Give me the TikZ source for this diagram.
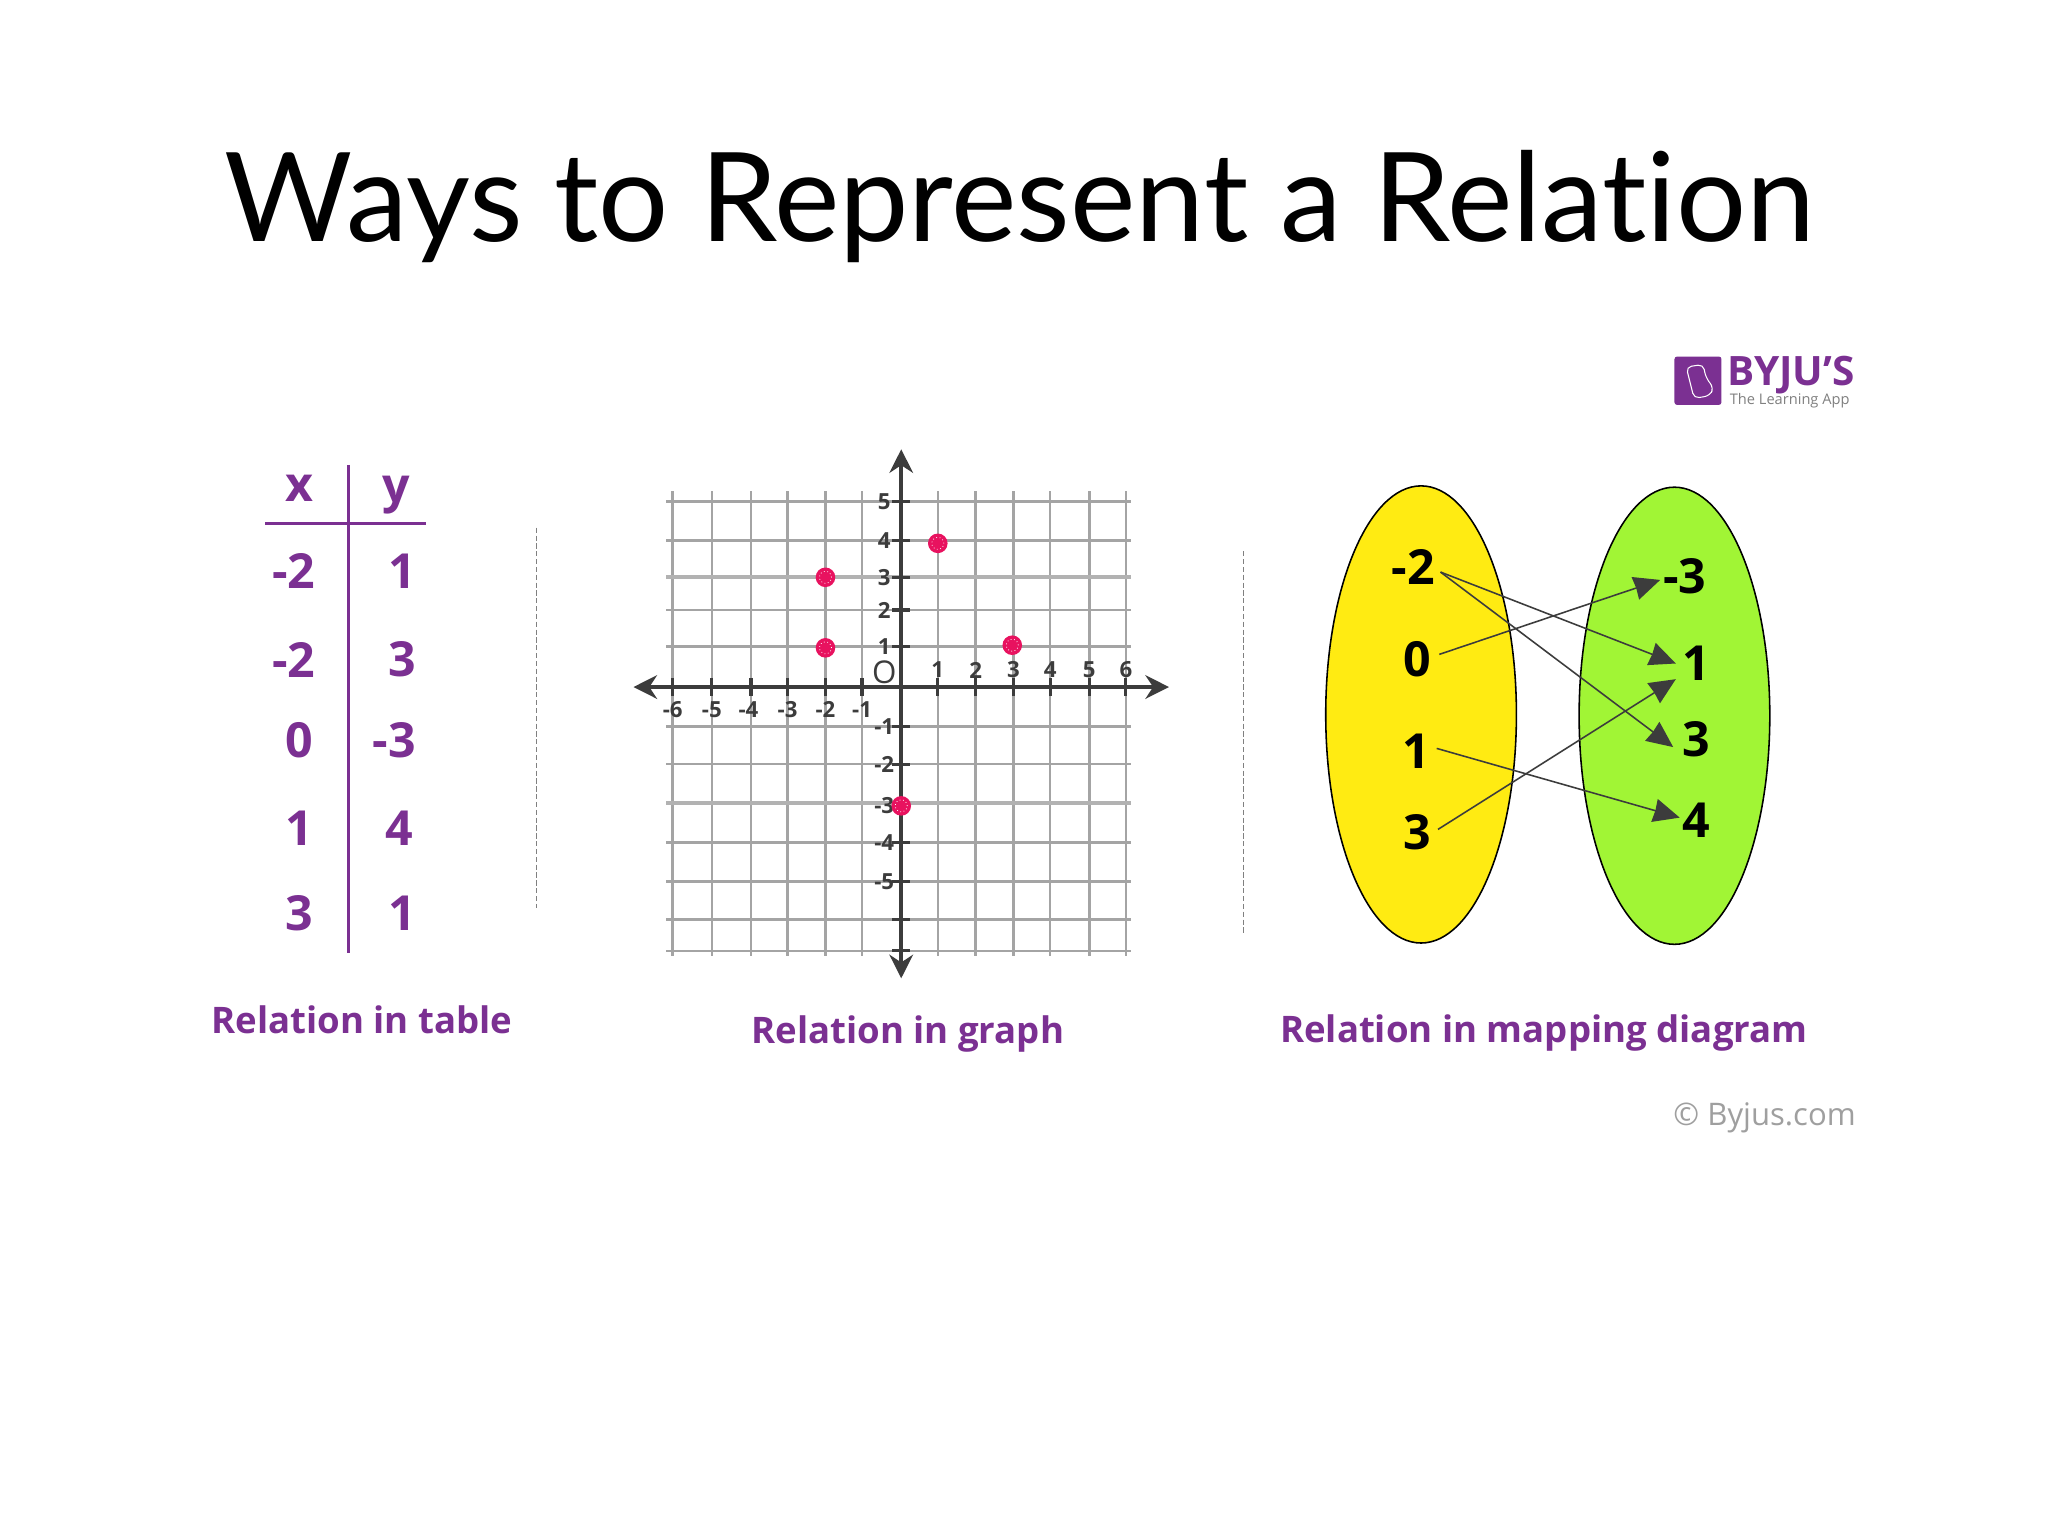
\documentclass[tikz,border=0pt]{standalone}
\usepackage{fontspec}
\setmainfont{Open Sans}
\newfontfamily\titlefont[Ligatures=NoCommon]{Lato}
\usetikzlibrary{arrows.meta}
\definecolor{relpurple}{HTML}{7B3092}
\definecolor{gridgray}{HTML}{A4A4A4}
\definecolor{axisgray}{HTML}{3C3C3C}
\definecolor{ptpink}{HTML}{E8125F}
\definecolor{ovyellow}{HTML}{FFEB12}
\definecolor{ovgreen}{HTML}{A1F535}
\tikzset{
  titletext/.style={inner sep=0pt,anchor=base,font=\titlefont\fontsize{47.4}{52}\selectfont,text=black},
  tabletext/.style={inner sep=0pt,text=relpurple,font=\fontsize{18.5}{20}\selectfont\bfseries},
  captext/.style={inner sep=0pt,text=relpurple,font=\fontsize{14}{16}\selectfont\bfseries},
  ticktext/.style={inner sep=0pt,text=axisgray,font=\fontsize{8.5}{9}\selectfont\bfseries},
  maptext/.style={inner sep=1pt,text=black,font=\fontsize{18.5}{20}\selectfont\bfseries},
  gridline/.style={gridgray,line width=1pt},
  axisline/.style={axisgray,line width=1.7pt,{Stealth[length=9pt,width=9pt]}-{Stealth[length=9pt,width=9pt]}},
  tickmark/.style={axisgray,line width=1.2pt},
  tblrule/.style={relpurple,line width=1.3pt},
  sepline/.style={gray,line width=.45pt,dash pattern=on 2pt off 1pt},
  ptmark/.style={circle,fill=ptpink,minimum size=7.5pt,inner sep=0pt,path picture={\draw[white,line width=.3pt,densely dotted] (path picture bounding box.center) circle (2.3pt);}},
  maparrow/.style={axisgray,line width=.6pt,-{Stealth[length=10pt,width=9pt,inset=0.3pt]}},
}
\begin{document}
\begin{tikzpicture}[x=0.5pt,y=-0.5pt]
\useasboundingbox (0,0) rectangle (1568,1176);
\fill[white] (0,0) rectangle (1568,1176);
\node[titletext] (ttl) at (781,185) {Ways to Represent a Relation};
% table
\coordinate (vt) at (267,356); \coordinate (vb) at (267,730);
\coordinate (hl) at (203,401); \coordinate (hr) at (326,401);
\draw[tblrule] (vt) -- (vb);
\draw[tblrule] (hl) -- (hr);
\foreach \n/\x/\y/\t in {xh/229/374/x,yh/303/379/y,a1/225/437/-2,b1/308/437/1,a2/225/505/-2,b2/308/505/3,a3/229/567/0,b3/302/567/-3,a4/229/634/1,b4/306/634/4,a5/229/699/3,b5/308/699/1}
  \node[tabletext] (\n) at (\x,\y) {\t};
\coordinate (s1t) at (411,404); \coordinate (s1b) at (411,695);
\draw[sepline] (s1t) -- (s1b);
\node[captext] (captable) at (277,781) {Relation in table};
% graph
\foreach \x in {515,545,575,603,632,660,718,747,776,804,834,862} \draw[gridline] (\x,376) -- (\x,732);
\foreach \y in {384,414,467,495,556,585,645,675,704,728} \draw[gridline] (510,\y) -- (866,\y);
\foreach \y in {442,615} \draw[gridline,gridgray!85,line width=1.5pt] (510,\y) -- (866,\y);
\foreach \x in {515,545,575,603,632,660,718,747,776,804,834,862} \draw[tickmark] (\x,519) -- (\x,533);
\foreach \y in {384,414,442,467,495,556,585,615,645,675,704,728} \draw[tickmark] (683,\y) -- (697,\y);
\coordinate (xa) at (485,526); \coordinate (xb) at (895,526);
\coordinate (ya) at (690,344); \coordinate (yb) at (690,749);
\draw[axisline] (xa) -- (xb);
\draw[axisline] (ya) -- (yb);
\foreach \x/\t in {515/-6,545/-5,573/-4,603/-3,632/-2,660/-1} \node[ticktext] at (\x,543) {\t};
\foreach \x/\t in {718/1,747/2,776/3,804/4,834/5,862/6} \node[ticktext] at (\x,513) {\t};
\foreach \y/\t in {384/5,414/4,442/3,467/2,495/1} \node[ticktext] at (677,\y) {\t};
\foreach \y/\t in {556/-1,585/-2,617/-3,645/-4,675/-5} \node[ticktext] at (677,\y) {\t};
\node[ticktext,font=\fontsize{12}{13}\selectfont] (orig) at (677,515) {O};
\foreach \n/\x/\y in {p1/632/442,p2/632/496,p3/718/416,p4/775/494,p5/690/617} \node[ptmark] (\n) at (\x,\y) {};
\node[captext] (capgraph) at (695,792) {Relation in graph};
% mapping
\coordinate (s2t) at (952,422); \coordinate (s2b) at (952,715);
\draw[sepline] (s2t) -- (s2b);
\draw[black,line width=.6pt,fill=ovyellow] (1088,547) ellipse [x radius=73,y radius=175];
\draw[black,line width=.6pt,fill=ovgreen] (1282,548) ellipse [x radius=73,y radius=175];
\node[maptext] (l1) at (1082,434) {-2};
\node[maptext] (l2) at (1085,505) {0};
\node[maptext] (l3) at (1084,575) {1};
\node[maptext] (l4) at (1085,637) {3};
\node[maptext] (r1) at (1290,441) {-3};
\node[maptext] (r2) at (1299,508) {1};
\node[maptext] (r3) at (1299,566) {3};
\node[maptext] (r4) at (1299,628) {4};
\draw[maparrow] ([xshift=1pt,yshift=-2pt]l1.east) -- ([xshift=-1.5pt]r2.west);
\draw[maparrow] ([xshift=1pt,yshift=-2pt]l1.east) -- ([xshift=-2.5pt,yshift=-3pt]r3.west);
\draw[maparrow] ([xshift=2pt,yshift=2pt]l2.east) -- ([yshift=-1.5pt]r1.west);
\draw[maparrow] ([xshift=1.5pt,yshift=1pt]l3.east) -- ([yshift=1pt]r4.west);
\draw[maparrow] ([xshift=1.5pt,yshift=1pt]l4.east) -- ([xshift=-1.5pt,yshift=-6pt]r2.west);
\node[captext] (capmap) at (1182,791) {Relation in mapping diagram};
% logo
\fill[relpurple,rounded corners=1pt] (1282,273) rectangle (1318,310);
\draw[white,line width=.4pt,rounded corners=2pt] (1291,281) -- (1304,279) -- (1306,289) -- (1312,297) -- (1309,303) -- (1297,305) -- cycle;
\node[inner sep=0pt,anchor=west,text=relpurple,font=\fontsize{15.5}{16}\selectfont\bfseries] (byj) at (1322,287) {BYJU'S};
\node[inner sep=0pt,anchor=west,text=gray,font=\fontsize{5.6}{6}\selectfont] (app) at (1324,307) {The Learning App};
\node[inner sep=0pt,text=gray!75,font=\fontsize{11.9}{12}\selectfont] (copy) at (1351,856) {© Byjus.com};
\end{tikzpicture}
\end{document}
